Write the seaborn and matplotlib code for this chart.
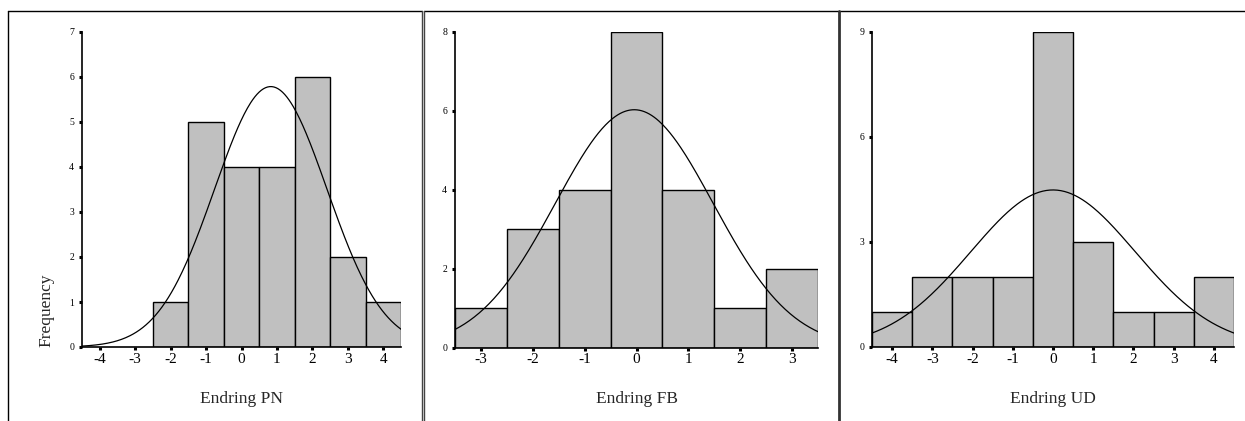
import numpy as np
import pandas as pd
import matplotlib
matplotlib.use("Agg")
import matplotlib.pyplot as plt
from matplotlib.lines import Line2D
import seaborn as sns

# ---- data ----
pn_values = [-2, -1, 0, 1, 2, 3, 4]
pn_counts = [1, 5, 4, 4, 6, 2, 1]
fb_values = [-3, -2, -1, 0, 1, 2, 3]
fb_counts = [1, 3, 4, 8, 4, 1, 2]
ud_values = [-4, -3, -2, -1, 0, 1, 2, 3, 4]
ud_counts = [1, 2, 2, 2, 9, 3, 1, 1, 2]

x_labels = ["Endring PN", "Endring FB", "Endring UD"]
pn_xticks = [-4, -3, -2, -1, 0, 1, 2, 3, 4]
fb_xticks = [-3, -2, -1, 0, 1, 2, 3]
ud_xticks = [-4, -3, -2, -1, 0, 1, 2, 3, 4]
pn_yticks = [0, 1, 2, 3, 4, 5, 6, 7]
fb_yticks = [0, 2, 4, 6, 8]
ud_yticks = [0, 3, 6, 9]
y_label = "Frequency"

sns.set_style("white")
plt.rcParams["font.family"] = ["Liberation Serif", "DejaVu Serif"]

W, H = 1245, 421
fig = plt.figure(figsize=(W / 100, H / 100), dpi=100)

# axes boxes in pixels: left, right, top, bottom
boxes = [(82, 401, 32, 347), (455, 818, 32, 347.5), (872, 1234, 32, 347)]
panels = [
    (pn_values, pn_counts, pn_xticks, pn_yticks, (-4.5, 4.5)),
    (fb_values, fb_counts, fb_xticks, fb_yticks, (-3.5, 3.5)),
    (ud_values, ud_counts, ud_xticks, ud_yticks, (-4.5, 4.5)),
]

for i, ((vals, cnts, xt, yt, xl), (l, r, t, b)) in enumerate(zip(panels, boxes)):
    ax = fig.add_axes([l / W, 1 - b / H, (r - l) / W, (b - t) / H])
    df = pd.DataFrame({"x": vals, "n": cnts})
    sns.histplot(data=df, x="x", weights="n", discrete=True, shrink=1,
                 color="#c0c0c0", edgecolor="black", linewidth=1.0,
                 alpha=1, ax=ax)
    # fitted normal curve from the same data
    v = np.asarray(vals, float)
    c = np.asarray(cnts, float)
    n = c.sum()
    mu = (v * c).sum() / n
    sd = np.sqrt((c * (v - mu) ** 2).sum() / (n - 1))
    xs = np.linspace(xl[0], xl[1], 300)
    ys = n * np.exp(-0.5 * ((xs - mu) / sd) ** 2) / (sd * np.sqrt(2 * np.pi))
    sns.lineplot(x=xs, y=ys, color="black", linewidth=0.9, ax=ax)

    ax.set_xlim(*xl)
    ax.set_ylim(0, yt[-1])
    ax.set_xticks(xt)
    ax.set_xticklabels([str(x) for x in xt])
    ax.set_yticks(yt)
    ax.set_yticklabels([str(y) for y in yt])
    sns.despine(ax=ax)
    for s in ("left", "bottom"):
        ax.spines[s].set_color("black")
        ax.spines[s].set_linewidth(1.2)
    ax.tick_params(axis="x", bottom=True, direction="out", length=2.2,
                   width=2.2, pad=1.8, labelsize=11, colors="black")
    ax.tick_params(axis="y", left=True, direction="out", length=2.2,
                   width=2.2, pad=3.5, labelsize=7, colors="black")
    ax.set_ylabel("")
    ax.set_xlabel(x_labels[i], fontsize=12.5)
    ax.xaxis.label.set_va("center")
    ax.xaxis.set_label_coords(0.5, -(399 - b) / (b - t))
    ax.patch.set_alpha(0)

fig.text(46 / W, 1 - 310 / H, y_label, rotation=90, fontsize=12.5,
         ha="center", va="center")


def px(x, y):
    return x / W, 1 - y / H


def fline(p0, p1, **kw):
    (x0, y0), (x1, y1) = px(*p0), px(*p1)
    fig.add_artist(Line2D([x0, x1], [y0, y1], transform=fig.transFigure, **kw))


fline((8, 11), (422, 11), color="black", lw=1.0)
fline((424, 11), (1245, 11), color="black", lw=1.0)
fline((8, 11), (8, 421), color="black", lw=1.0)
fline((422, 11), (422, 421), color="#444444", lw=1.0)
fline((424.5, 11), (424.5, 421), color="#444444", lw=1.0)
fline((838.5, 11), (838.5, 421), color="#333333", lw=2.0)

fig.savefig("out.png", dpi=100)
